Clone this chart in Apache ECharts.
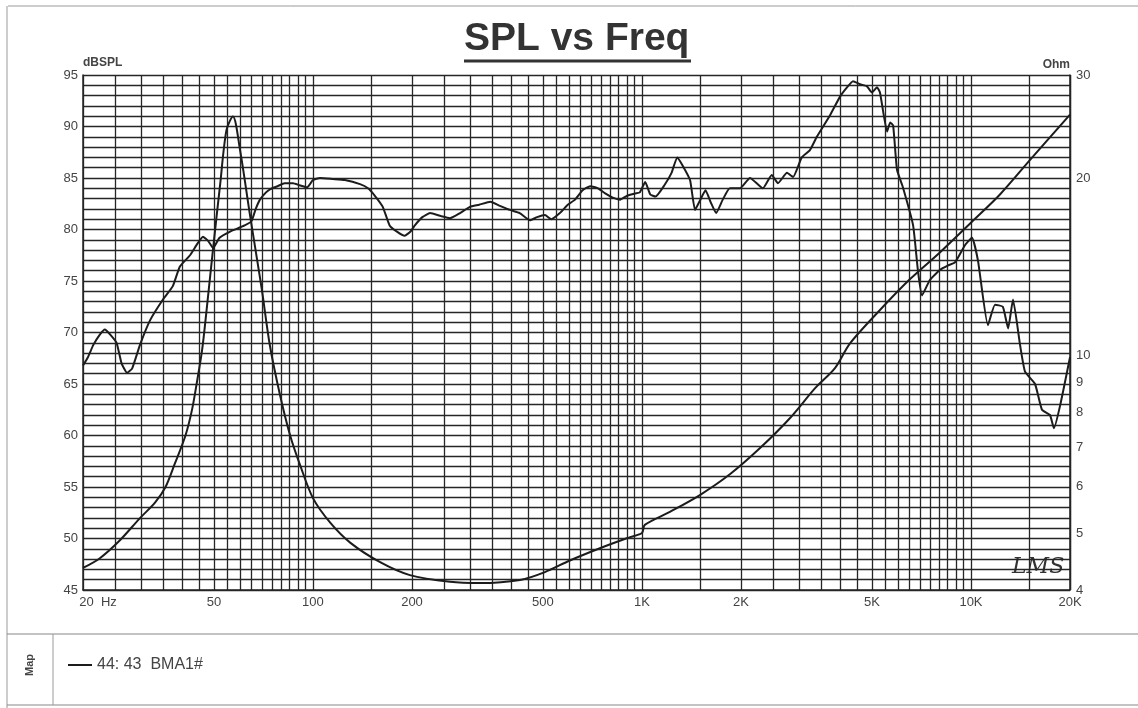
<!DOCTYPE html>
<html>
<head>
<meta charset="utf-8">
<title>SPL vs Freq</title>
<script src="https://cdn.jsdelivr.net/npm/echarts@6/dist/echarts.min.js"></script>
<style>
  html, body { margin: 0; padding: 0; background: #fff; }
  #chart { width: 1138px; height: 708px; }
</style>
</head>
<body>
<div id="chart"></div>
<script>
// SPL response (Hz, dBSPL)
const splFreq = [20, 20.7, 21.5, 22.5, 23.3, 24.2, 25.3, 26.2, 27.2, 28.2, 29.8, 32, 35, 37.5, 39.4, 42.3, 44.5, 46.3, 48, 49.7,
  52, 56, 62, 65, 67, 69, 72, 74, 78, 82, 87, 91, 96, 100, 105, 115, 125, 139, 147, 154, 163, 171, 180, 190, 198,
  204, 215, 227, 245, 261, 280, 300, 320, 346, 370, 397, 425, 457, 480, 507, 530, 563, 595, 626, 660, 696, 735, 773,
  815, 858, 905, 953, 985, 1023, 1060, 1100, 1170, 1230, 1280, 1330, 1400, 1450, 1500, 1560, 1620, 1680, 1760, 1850,
  1986, 2130, 2330, 2480, 2590, 2760, 2880, 3060, 3240, 3400, 3730, 4000, 4200, 4380, 4600, 4830, 5000, 5180, 5290,
  5560, 5680, 5800, 5960, 6210, 6670, 6900, 7100, 7500, 8060, 8500, 8940, 9600, 10070, 10500, 11260, 11830, 12500,
  12970, 13420, 14100, 14600, 15660, 16440, 17380, 17870, 18660, 20000];
const splDb = [66.8, 67.6, 68.8, 69.8, 70.3, 69.8, 69.0, 67.0, 66.1, 66.5, 68.8, 71.2, 73.2, 74.5, 76.4, 77.5, 78.6, 79.3, 78.9, 78.2,
  79.2, 79.8, 80.4, 80.8, 82.0, 82.9, 83.6, 83.9, 84.2, 84.5, 84.5, 84.3, 84.1, 84.8, 85.0, 84.9, 84.8, 84.4, 84.0, 83.3, 82.2, 80.4, 79.8, 79.4, 79.8,
  80.4, 81.2, 81.6, 81.3, 81.1, 81.6, 82.2, 82.4, 82.7, 82.3, 81.9, 81.6, 80.9, 81.2, 81.4, 81.0, 81.6, 82.4, 82.9, 83.8, 84.2, 84.0, 83.5,
  83.1, 82.9, 83.3, 83.5, 83.6, 84.6, 83.4, 83.2, 84.3, 85.5, 87.0, 86.2, 84.8, 81.9, 82.8, 83.8, 82.6, 81.6, 82.9, 84.0,
  84.0, 85.0, 84.0, 85.3, 84.5, 85.5, 85.1, 87.0, 87.7, 89.0, 91.1, 92.9, 93.8, 94.4, 94.1, 93.9, 93.3, 93.8, 93.3,
  89.5, 90.4, 90.1, 85.8, 84.1, 80.4, 76.0, 73.6, 75.1, 76.1, 76.5, 76.8, 78.5, 79.2, 77.0, 70.7, 72.7, 72.5,
  70.4, 73.2, 68.8, 66.2, 65.0, 62.5, 62.0, 60.7, 62.9, 67.6];

// impedance (Hz, Ohm)
const zFreq = [20, 22.5, 25.9, 29.8, 33.1, 35.6, 38, 41, 42.9, 44.3, 46, 47.5, 49.7, 52.2, 54.6, 57.1,
  60, 64.4, 67.6, 70, 74, 79.4, 85.2, 91.4, 100, 113, 130, 160, 197, 261, 322, 426, 507, 604, 745, 920,
  1000, 1020, 1216, 1500, 1850, 2285, 2820, 3360, 3860, 4290, 5290, 6530, 8060, 10070, 12250, 15100, 20000];
const zOhm = [4.36, 4.53, 4.86, 5.30, 5.63, 5.98, 6.55, 7.33, 8.1, 8.96, 10.2, 11.96, 15.2, 19.5, 24.2, 25.5,
  22.4, 17.3, 14.6, 12.9, 10.4, 8.58, 7.33, 6.52, 5.73, 5.20, 4.81, 4.46, 4.24, 4.13, 4.11, 4.16, 4.29, 4.49, 4.71, 4.92,
  5.0, 5.16, 5.43, 5.80, 6.29, 6.97, 7.84, 8.81, 9.53, 10.5, 11.96, 13.5, 15.0, 16.9, 18.8, 21.5, 25.7];

// axis ticks
const gridMantissa = [1, 1.5, 2, 2.5, 3, 3.5, 4, 4.5, 5, 5.5, 6, 6.5, 7, 7.5, 8, 8.5, 9, 9.5];
const decades = [10, 100, 1000, 10000];
const freqLabels = [20, 50, 100, 200, 500, 1000, 2000, 5000, 10000, 20000];
const dbLabels = [45, 50, 55, 60, 65, 70, 75, 80, 85, 90, 95];
const ohmLabels = [4, 5, 6, 7, 8, 9, 10, 20, 30];
const seriesName = '44: 43  BMA1#';

const gridFreqs = [];
decades.forEach(d => gridMantissa.forEach(m => {
  const f = Math.round(m * d);
  if (f >= 20 && f <= 20000) gridFreqs.push(f);
}));
gridFreqs.push(20000);

const zip = (a, b) => a.map((v, i) => [v, b[i]]);

const fmtFreq = v => {
  if (v === 20) return '{hz|20  Hz}';
  return v >= 1000 ? (v / 1000) + 'K' : String(v);
};

const INK = '#262626';
const TXT = '#444';
const FONT = '"Liberation Sans", Arial, sans-serif';

const chart = echarts.init(document.getElementById('chart'));
chart.setOption({
  backgroundColor: '#fff',
  animation: false,
  textStyle: { fontFamily: FONT },
  title: {
    text: 'SPL vs Freq',
    left: 464,
    top: 20,
    padding: 0,
    textStyle: { fontSize: 39, fontWeight: 'bold', color: '#333', fontFamily: FONT }
  },
  legend: {
    data: [{ name: seriesName, icon: 'rect' }],
    left: 63,
    top: 652,
    itemWidth: 24,
    itemHeight: 2,
    itemGap: 6,
    textStyle: { fontSize: 16, color: TXT, fontFamily: FONT }
  },
  grid: { left: 83, right: 68, top: 75, bottom: 118 },
  xAxis: {
    type: 'log',
    logBase: 10,
    min: 20,
    max: 20000,
    axisLine: { show: true, lineStyle: { color: INK, width: 1.5 } },
    axisTick: { show: false, customValues: gridFreqs },
    axisLabel: {
      customValues: freqLabels,
      formatter: fmtFreq,
      color: TXT,
      fontSize: 13,
      margin: 6,
      rich: { hz: { padding: [0, 0, 0, 30], fontSize: 13, color: TXT } }
    },
    splitLine: { show: true, lineStyle: { color: INK, width: 1.3 } }
  },
  yAxis: [
    {
      type: 'value',
      min: 45,
      max: 95,
      interval: 1,
      position: 'left',
      name: 'dBSPL',
      nameLocation: 'end',
      nameGap: 4,
      nameTextStyle: { align: 'left', color: TXT, fontSize: 12, fontWeight: 'bold' },
      axisLine: { show: true, lineStyle: { color: INK, width: 1.5 } },
      axisTick: { show: false },
      axisLabel: { customValues: dbLabels, color: TXT, fontSize: 13, margin: 5 },
      splitLine: { show: true, lineStyle: { color: INK, width: 1.3 } }
    },
    {
      type: 'log',
      logBase: 10,
      min: 4,
      max: 30,
      position: 'right',
      name: 'Ohm',
      nameLocation: 'end',
      nameGap: 4,
      nameTextStyle: { align: 'right', color: TXT, fontSize: 12, fontWeight: 'bold' },
      axisLine: { show: true, lineStyle: { color: INK, width: 1.5 } },
      axisTick: { show: false, customValues: ohmLabels },
      axisLabel: { customValues: ohmLabels, color: TXT, fontSize: 13, margin: 6 },
      splitLine: { show: false }
    }
  ],
  series: [
    {
      name: seriesName,
      type: 'line',
      yAxisIndex: 0,
      data: zip(splFreq, splDb),
      symbol: 'none',
      smooth: 0.15,
      lineStyle: { color: '#1c1c1c', width: 2 },
      itemStyle: { color: '#1c1c1c' },
      silent: true
    },
    {
      name: 'Impedance',
      type: 'line',
      yAxisIndex: 1,
      data: zip(zFreq, zOhm),
      symbol: 'none',
      smooth: 0.3,
      lineStyle: { color: '#1c1c1c', width: 2 },
      itemStyle: { color: '#1c1c1c' },
      silent: true
    }
  ],
  graphic: [
    { type: 'line', shape: { x1: 8, y1: 6, x2: 1138, y2: 6 }, style: { stroke: '#999', lineWidth: 1 }, silent: true },
    { type: 'line', shape: { x1: 7, y1: 6, x2: 7, y2: 708 }, style: { stroke: '#999', lineWidth: 1 }, silent: true },
    { type: 'line', shape: { x1: 7, y1: 634, x2: 1138, y2: 634 }, style: { stroke: '#888', lineWidth: 1.2 }, silent: true },
    { type: 'line', shape: { x1: 7, y1: 705, x2: 1138, y2: 705 }, style: { stroke: '#888', lineWidth: 1.2 }, silent: true },
    { type: 'line', shape: { x1: 53, y1: 634, x2: 53, y2: 705 }, style: { stroke: '#999', lineWidth: 1 }, silent: true },
    { type: 'line', shape: { x1: 464, y1: 61, x2: 691, y2: 61 }, style: { stroke: '#333', lineWidth: 3 }, silent: true },
    {
      type: 'text', x: 30, y: 665, rotation: Math.PI / 2,
      style: { text: 'Map', font: 'bold 11px "Liberation Sans", Arial, sans-serif', fill: '#444', align: 'center', verticalAlign: 'middle' },
      silent: true
    },
    {
      type: 'text', x: 1012, y: 556,
      style: { text: 'LMS', font: 'italic 22px "DejaVu Serif", serif', fill: '#333' },
      silent: true
    }
  ]
});
</script>
</body>
</html>
